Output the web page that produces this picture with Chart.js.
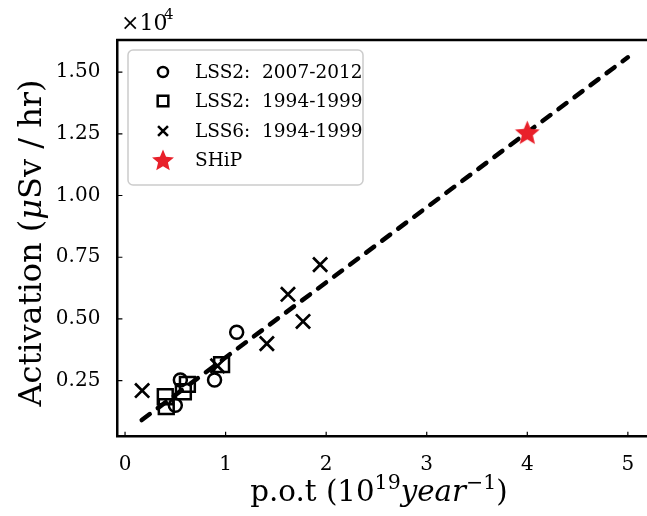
<!DOCTYPE html>
<html>
<head>
<meta charset="utf-8">
<script src="https://cdn.jsdelivr.net/npm/chart.js@4"></script>
<style>
  body { margin: 0; background: #fff; overflow: hidden; }
  canvas { display: block; }
</style>
</head>
<body>
<canvas id="activationChart" width="652" height="516"></canvas>
<script>
// p.o.t in 10^19 / year, activation in uSv / hr
const lss2NewPot = [0.50, 0.55, 0.89, 1.11];
const lss2NewAct = [1500, 2530, 2530, 4460];
const lss2OldPot = [0.40, 0.41, 0.58, 0.62, 0.96];
const lss2OldAct = [1850, 1450, 2050, 2350, 3150];
const lss6Pot = [0.17, 0.92, 1.41, 1.62, 1.77, 1.94];
const lss6Act = [2100, 3100, 4000, 6000, 4900, 7200];
const shipPot = [4.0];
const shipAct = [12550];
const fitPot = [0.166, 5.0];
const fitAct = [905, 15600];
const xTicks = [0, 1, 2, 3, 4, 5];
const yTicks = [2500, 5000, 7500, 10000, 12500, 15000];

const SERIF = "'DejaVu Serif', serif";
const RED = '#e8202a';

function pts(xs, ys) {
  return xs.map((x, i) => ({ x: x, y: ys[i] }));
}

function makeStar(size, color) {
  const c = document.createElement('canvas');
  c.width = size; c.height = size;
  const g = c.getContext('2d');
  const cx = size / 2, cy = size / 2 + 1, ro = size / 2 - 0.5, ri = ro * 0.45;
  g.beginPath();
  for (let i = 0; i < 10; i++) {
    const r = i % 2 ? ri : ro;
    const a = -Math.PI / 2 + i * Math.PI / 5;
    g.lineTo(cx + r * Math.cos(a), cy + r * Math.sin(a));
  }
  g.closePath();
  g.fillStyle = color;
  g.fill();
  return c;
}
const starBig = makeStar(27, RED);
const starSmall = makeStar(24, RED);

function drawRich(ctx, parts, x, y) {
  let w = 0;
  parts.forEach(p => { ctx.font = p.font; w += ctx.measureText(p.t).width; });
  let cx = x - w / 2;
  parts.forEach(p => {
    ctx.font = p.font;
    ctx.fillText(p.t, cx, y + (p.dy || 0));
    cx += ctx.measureText(p.t).width;
  });
}

const decorations = {
  id: 'decorations',
  afterDraw(chart) {
    const ctx = chart.ctx;
    const a = chart.chartArea;
    const xs = chart.scales.x, ys = chart.scales.y;
    ctx.save();
    ctx.strokeStyle = '#000';
    ctx.fillStyle = '#000';
    // top spine
    ctx.lineWidth = 2.5;
    ctx.beginPath();
    ctx.moveTo(a.left - 1.25, a.top);
    ctx.lineTo(a.right + 5, a.top);
    ctx.stroke();
    // inward ticks
    ctx.lineWidth = 1.2;
    ctx.beginPath();
    xs.ticks.forEach(t => {
      const px = xs.getPixelForValue(t.value);
      ctx.moveTo(px, a.bottom);
      ctx.lineTo(px, a.bottom - 5);
    });
    ys.ticks.forEach(t => {
      const py = ys.getPixelForValue(t.value);
      ctx.moveTo(a.left, py);
      ctx.lineTo(a.left + 5, py);
    });
    ctx.stroke();

    // offset text
    ctx.textAlign = 'left';
    ctx.textBaseline = 'alphabetic';
    ctx.font = '22px ' + SERIF;
    ctx.fillText('\u00d710', 121, 30);
    ctx.font = '15px ' + SERIF;
    ctx.fillText('4', 164, 19);

    // x title
    const big = '29.3px ' + SERIF, small = '20.5px ' + SERIF;
    drawRich(ctx, [
      { t: 'p.o.t (10', font: big },
      { t: '19', font: small, dy: -12 },
      { t: 'year', font: 'italic ' + big },
      { t: '\u22121', font: small, dy: -12 },
      { t: ')', font: big }
    ], 379, 501);

    // y title
    const ybig = '32px ' + SERIF;
    ctx.save();
    ctx.translate(41, 243);
    ctx.rotate(-Math.PI / 2);
    drawRich(ctx, [
      { t: 'Activation (', font: ybig },
      { t: '\u03bc', font: 'italic ' + ybig },
      { t: 'Sv / hr)', font: ybig }
    ], 0, 0);
    ctx.restore();

    // legend
    const lx = 128, ly = 50, lw = 235, lh = 135;
    ctx.beginPath();
    ctx.roundRect(lx, ly, lw, lh, 5);
    ctx.fillStyle = 'rgba(255,255,255,0.85)';
    ctx.fill();
    ctx.strokeStyle = '#cccccc';
    ctx.lineWidth = 1.5;
    ctx.stroke();
    const rows = [72, 101, 131, 160];
    const legendMarks = [
      { pointStyle: 'circle', radius: 5, borderWidth: 2.5 },
      { pointStyle: 'rect', radius: 7.5, borderWidth: 2.5 },
      { pointStyle: 'crossRot', radius: 7, borderWidth: 2.5 },
      { pointStyle: starSmall, radius: 12, borderWidth: 0 }
    ];
    chart.data.datasets.slice(0, 4).forEach((ds, i) => {
      ctx.fillStyle = 'rgba(0,0,0,0)';
      ctx.strokeStyle = '#000';
      ctx.lineWidth = legendMarks[i].borderWidth;
      Chart.helpers.drawPoint(ctx, Object.assign({ rotation: 0 }, legendMarks[i]), 163, rows[i]);
      ctx.fillStyle = '#000';
      ctx.font = '18.5px ' + SERIF;
      ctx.textAlign = 'left';
      ctx.textBaseline = 'middle';
      ctx.fillText(ds.label, 195, rows[i] + 1);
    });
    ctx.restore();
  }
};

const ctx = document.getElementById('activationChart');
new Chart(ctx, {
  type: 'scatter',
  data: {
    datasets: [
      {
        label: 'LSS2:  2007-2012',
        data: pts(lss2NewPot, lss2NewAct),
        pointStyle: 'circle', pointRadius: 6.5, pointHoverRadius: 6.5,
        borderColor: '#000', backgroundColor: 'rgba(0,0,0,0)', borderWidth: 2.5
      },
      {
        label: 'LSS2:  1994-1999',
        data: pts(lss2OldPot, lss2OldAct),
        pointStyle: 'rect', pointRadius: 10.5, pointHoverRadius: 10.5,
        borderColor: '#000', backgroundColor: 'rgba(0,0,0,0)', borderWidth: 2.5
      },
      {
        label: 'LSS6:  1994-1999',
        data: pts(lss6Pot, lss6Act),
        pointStyle: 'crossRot', pointRadius: 10, pointHoverRadius: 10,
        borderColor: '#000', backgroundColor: 'rgba(0,0,0,0)', borderWidth: 2.7
      },
      {
        label: 'SHiP',
        data: pts(shipPot, shipAct),
        pointStyle: starBig, pointRadius: 13,
        borderColor: RED, backgroundColor: RED
      },
      {
        label: 'fit',
        type: 'line',
        data: pts(fitPot, fitAct),
        borderColor: '#000', borderWidth: 4.5,
        borderDash: [10, 10], borderCapStyle: 'round',
        pointRadius: 0, fill: false, order: 1
      }
    ]
  },
  options: {
    responsive: false,
    animation: false,
    events: [],
    layout: { autoPadding: false, padding: { top: 40, left: 0, right: 0, bottom: 0 } },
    plugins: { legend: { display: false }, tooltip: { enabled: false } },
    scales: {
      x: {
        type: 'linear', min: -0.076, max: 5.24,
        afterBuildTicks: s => { s.ticks = xTicks.map(v => ({ value: v })); },
        afterFit: s => { s.height = 79.3; s.paddingLeft = 0; s.paddingRight = 0; },
        grid: { display: false },
        border: { display: true, color: '#000', width: 2.5 },
        ticks: { color: '#000', padding: 8, maxRotation: 0, font: { family: SERIF, size: 20 } }
      },
      y: {
        type: 'linear', min: 230, max: 16300,
        afterBuildTicks: s => { s.ticks = yTicks.map(v => ({ value: v })); },
        afterFit: s => { s.width = 117.4; s.paddingTop = 0; s.paddingBottom = 0; },
        grid: { display: false },
        border: { display: true, color: '#000', width: 2.5 },
        ticks: {
          color: '#000', padding: 9, font: { family: SERIF, size: 20 },
          callback: v => (v / 10000).toFixed(2)
        }
      }
    }
  },
  plugins: [decorations]
});
</script>
</body>
</html>
